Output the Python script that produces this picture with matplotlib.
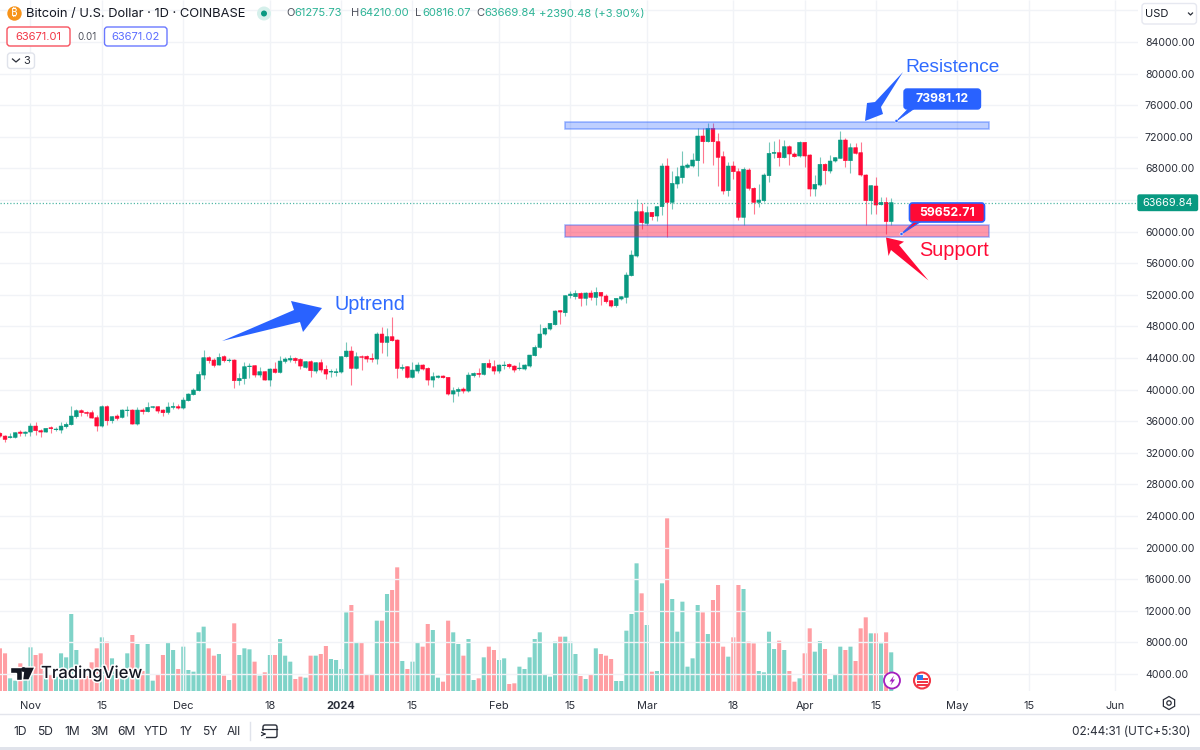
import numpy as np
import matplotlib
matplotlib.use("Agg")
import matplotlib.pyplot as plt
from matplotlib.patches import Polygon, Rectangle, FancyBboxPatch, Circle
import matplotlib.patheffects as pe

plt.rcParams['font.family'] = ['Inter', 'DejaVu Sans']

# days since 1 Nov 2023
first_day = -6
open_ = [34457,34120,33910,33950,34626,34457,34626,35385,34795,34626,35175,34921,34879,35301,35554,36567,37327,37116,37073,36440,
35385,37833,36061,36652,36483,37369,37411,35639,37411,37200,37749,37833,37411,37116,37749,37833,37664,38592,39352,39858,
41842,44036,43741,43108,44163,43657,43741,41125,41378,42897,43024,41842,42264,41209,42602,42180,43572,43741,43952,
43825,42813,43530,42348,43403,42559,42222,42138,42222,44163,44880,42686,44163,44205,43952,43868,47033,45978,46695,46273,
42686,42897,41547,42348,43108,42686,41209,41547,41716,41547,39437,39774,40070,39817,41758,42053,41927,43319,42897,42348,
43024,43192,42981,42644,42602,42981,44290,45345,47033,47666,48214,49987,49733,51886,51759,52181,51548,52223,51675,52308,
51844,51252,50620,51464,51675,54418,56907,62520,61043,62436,61971,63153,68301,63702,66023,66824,68133,68301,68977,72099,
71382,73070,71382,69483,65178,68301,67584,61803,67795,65474,63702,63913,67078,69905,69989,69356,70749,69821,69567,71298,
69694,65390,65896,68512,67668,68934,69272,71593,68976,70622,69989,67162,63913,65770,63406,63702,61275.73]
high = [34670,34200,34457,34670,34880,34710,35723,35934,35005,35175,35428,35217,35934,35934,37917,37495,37495,37284,37411,36778,
38002,38002,36652,36905,37580,37917,37580,37833,37622,38466,37917,37917,37580,38382,38424,38171,39099,39605,40196,42306,
45007,44247,43952,44669,44374,44036,43825,42053,43446,43403,43108,42813,42391,42686,43446,44247,44163,44332,44079,
43952,43657,43741,43530,43825,43108,42559,42686,44247,45978,45513,44796,44374,44332,44585,47328,47877,47750,49143,46400,
43235,42981,43530,43530,43235,42813,42180,41842,41884,41631,40280,40365,40323,42180,42264,42686,43403,43825,43741,43235,
43614,43319,43108,43446,43235,44374,45640,48256,47877,48467,50071,50071,51970,52519,52603,52350,52392,52603,53025,52392,
52097,51337,51633,51886,54924,57667,64081,63659,63238,62520,63238,68639,69272,67711,68133,70200,68639,69989,73070,73070,
73703,73787,72437,70243,68850,68977,68006,68133,68006,65685,66022,67457,71382,71509,71762,71593,70960,70116,71466,71382,
69821,67162,69398,68639,69694,69483,72733,71804,71255,71171,71297,67247,65896,66951,64419,64419,64210.00]
low = [34035,33400,33870,33910,34120,34120,34120,34246,34035,34584,34457,34795,34457,35175,35554,36356,36652,36652,36356,34795,
35301,35512,35807,36145,36398,36652,35596,35554,36905,37200,37706,37073,36652,36905,37580,37538,37580,38592,39310,39774,
41378,43319,42813,43108,43530,43488,40196,40576,40660,41420,41631,41631,41209,40492,42137,42137,43403,43530,43319,
42559,42686,41631,42138,42264,41293,41547,41716,42138,44163,40618,42559,42475,43530,43530,43235,44670,44290,46189,41420,
42475,41504,41504,42053,42475,40576,40280,41462,41420,39310,38466,39183,39521,39732,41547,41631,41842,42686,41969,42053,
42644,42770,42180,42475,42475,42813,44248,45302,46906,47539,48172,48299,49311,51548,51506,50620,50704,51337,50704,50704,
50915,50493,50493,51337,50915,54418,56739,60283,60832,61465,61380,62098,59271,62858,65474,66191,68048,68217,67035,68723,
71298,68428,65769,64757,64546,66613,61465,60832,65263,62182,63069,63786,66318,69272,68302,69272,68428,69399,69483,68133,
64546,64546,65769,66023,67373,68850,69272,68133,67457,69820,67035,60832,62182,62182,63364,59652.71,60816.07]
close = [34120,33697,34035,34540,34457,34626,35385,34795,34626,35090,35048,35005,35385,35596,36652,37327,37073,36989,36398,35385,
37833,36061,36567,36356,37411,37411,35639,37411,37200,37749,37833,37284,37073,37791,37875,37664,38677,39437,39943,41926,
44036,43657,43066,44079,43657,43741,41125,41420,42897,42981,41842,42264,41209,42602,42180,43614,43868,43952,43657,
42981,43530,42391,43403,42475,41969,42306,42264,44163,44880,42686,44163,44079,43868,43825,47033,45978,46695,46189,42686,
42813,41547,42475,43108,42602,41209,41631,41716,41504,39437,39859,40027,39817,41842,42053,41927,43319,42813,42348,43108,
43108,42897,42475,42728,43108,44374,45345,47033,47750,48383,49944,49818,51886,52097,52181,51548,52223,51675,52308,51844,
51126,50577,51548,51759,54502,57034,62520,61127,62393,61887,63153,68301,63702,66107,66951,68301,68428,69061,72099,71382,
73070,71382,69399,65136,68301,67584,61802,67879,65474,63702,63997,67162,69905,70031,69356,70749,69821,69483,71298,69567,
65390,65980,68512,67711,68934,69356,71593,68976,70622,69905,67162,63913,65812,63364,63702,61275.73,63669.84]
volume = [128,113,38,31,83,60,131,108,113,60,50,43,113,101,231,123,50,45,86,128,161,148,98,50,50,113,
168,141,60,141,31,51,108,146,123,66,133,63,58,176,193,128,106,111,46,33,203,108,128,125,88,46,56,108,108,156,
106,88,36,43,40,106,106,111,135,96,93,66,236,258,146,146,48,51,211,211,291,303,371,90,66,88,146,133,201,183,40,
28,211,176,141,106,156,33,38,101,133,123,93,98,21,23,73,66,101,156,176,48,43,148,163,163,148,111,45,36,51,128,
111,106,96,30,30,181,231,383,293,198,58,60,323,518,276,178,268,73,98,258,236,171,273,318,133,103,161,318,306,
148,143,60,56,178,126,151,123,60,28,38,113,188,118,150,126,36,48,133,123,133,90,188,221,173,173,143,176,116]

price_ticks = [84000,80000,76000,72000,68000,60000,56000,52000,48000,44000,40000,36000,32000,28000,24000,20000,16000,12000,8000,4000]
grid_prices = [88000,84000,80000,76000,72000,68000,64000,60000,56000,52000,48000,44000,40000,36000,32000,28000,24000,20000,16000,12000,8000,4000]
date_ticks = [0,14,30,47,61,75,92,106,121,138,152,166,182,196,213]
date_labels = ['Nov','15','Dec','18','2024','15','Feb','15','Mar','18','Apr','15','May','15','Jun']
last_close = 63669.84
resistance_zone = (72986, 73872)
support_zone = (59272, 60832)
zone_days = (105, 188.2)

UP, DOWN = '#089981', '#FF0A36'
BLUE = '#2962FF'
TXT = '#2A2E39'
GRID = '#F1F3F7'

fig = plt.figure(figsize=(12, 7.5), dpi=100, facecolor='white')
W, H = 1200, 750
rect = [0, (H-691)/H, 1138/W, 691/H]

axv = fig.add_axes(rect, facecolor='white')
axv.set_xlim(-30.5/5.093, (1138-30.5)/5.093)
axv.set_ylim(0, 691*3)
axv.axis('off')
ax = fig.add_axes(rect, facecolor='none', sharex=axv)
k = 80000/632
ax.set_ylim(84000-649*k, 84000+42*k)

days = np.arange(first_day, first_day+len(close))
o, h, l, c = map(np.array, (open_, high, low, close))
is_up = c >= o
colors = np.where(is_up, UP, DOWN)

ax.hlines(grid_prices, -10, 230, color=GRID, lw=1, zorder=0)
ax.vlines(date_ticks, 84000-649*k, 84000+42*k, color=GRID, lw=1, zorder=0)

vol_colors = np.where(is_up, '#7FD3C8', '#FF9EA3')
axv.bar(days, volume, width=0.8, color=vol_colors, linewidth=0, zorder=2, snap=False)

ax.vlines(days, l, h, colors=colors, lw=0.8, alpha=0.55, zorder=3)
ax.bar(days, np.abs(c-o), bottom=np.minimum(o,c), width=0.74, color=colors, edgecolor=colors, linewidth=0.4, zorder=4, snap=False)

ax.axhline(last_close, color=UP, lw=0.9, ls=(0,(1,1.6)), alpha=0.7, zorder=5)

for zone, face, fa in ((resistance_zone, BLUE, 0.3), (support_zone, '#FF0A36', 0.42)):
    ax.add_patch(Rectangle((zone_days[0], zone[0]), zone_days[1]-zone_days[0], zone[1]-zone[0],
                           facecolor=matplotlib.colors.to_rgba(face, fa),
                           edgecolor=matplotlib.colors.to_rgba(BLUE, 0.45), lw=1.1, zorder=6))

for s in ax.spines.values():
    s.set_visible(False)
ax.yaxis.tick_right()
ax.set_yticks(price_ticks)
ax.set_yticklabels([f'{p:.2f}' for p in price_ticks], fontsize=7.6, color=TXT)
ax.tick_params(axis='y', length=0, pad=5)
ax.set_xticks(date_ticks)
ax.set_xticklabels(date_labels, fontsize=7.9, color=TXT)
ax.tick_params(axis='x', length=0, pad=7)
for lb, t in zip(ax.get_xticklabels(), date_labels):
    if t == '2024':
        lb.set_fontweight('bold')
ax.set_xlim(-30.5/5.093, (1138-30.5)/5.093)

ui = fig.add_axes([0,0,1,1], facecolor='none')
ui.set_xlim(0, W); ui.set_ylim(H, 0); ui.axis('off')

def T(x, y, s, size=8.3, color=TXT, ha='left', va='center', zorder=12, **kw):
    return ui.text(x, y, s, fontsize=size, color=color, ha=ha, va=va, zorder=zorder, **kw)

def box(x0, y0, x1, y1, fc, ec, lw=1, r=3, z=8):
    p = FancyBboxPatch((x0, y0), x1-x0, y1-y0, boxstyle=f'round,pad=0,rounding_size={r}',
                       fc=fc, ec=ec, lw=lw, zorder=z)
    ui.add_patch(p)
    return p

# header
ui.add_patch(Circle((14.5, 13.5), 7.2, fc='#F7931A', ec='none'))
T(14.5, 13.5, '₿', size=8, color='white', ha='center',
  family=['Noto Sans', 'Roboto', 'Open Sans', 'Lato', 'Inter', 'Liberation Sans', 'DejaVu Sans'], fontweight='bold')
T(26, 13.5, 'Bitcoin / U.S. Dollar · 1D · COINBASE', size=9.3, color='#131722')
ui.add_patch(Circle((264, 13.5), 7, fc='#D5F0EB', ec='none'))
ui.add_patch(Circle((264, 13.5), 3, fc=UP, ec='none'))
HGREEN = '#2BB395'
for x, dx, lab, val in ((286,8.7,'O','61275.73'),(350.5,8.7,'H','64210.00'),(415,7,'L','60816.07'),(476,8.5,'C','63669.84')):
    T(x, 13.5, lab, size=8.0, color='#50535E')
    T(x+dx, 13.5, val, size=8.0, color=HGREEN)
T(539, 13.5, '+2390.48 (+3.90%)', size=8.0, color=HGREEN)

box(7, 27, 70, 46, 'white', '#F7525F')
T(38.5, 36.5, '63671.01', size=8.0, color='#F23645', ha='center')
T(87, 37, '0.01', size=7.0, color='#50535E', ha='center')
box(104.5, 27, 167, 46, 'white', '#6A78FF')
T(136, 36.5, '63671.02', size=8.0, color='#5B6CFF', ha='center')
box(7.5, 53, 34.5, 68.5, 'white', '#E0E3EB')
ui.plot([12.5,16,19.5],[59,62,59], color=TXT, lw=0.9, zorder=12)
T(27, 61, '3', size=8, color=TXT, ha='center')

# USD selector
box(1142, 3.5, 1196.5, 24, 'white', '#E6E8F0')
T(1145, 14, 'USD', size=8.0, color='#131722')
ui.plot([1188.5,1190.5,1192.5],[13,15,13], color=TXT, lw=0.9, zorder=12)

# current price tag
box(1138, 195, 1197.5, 210.5, UP, UP, r=1.5)
T(1168, 203, '63669.84', size=7.8, color='white', ha='center')

# annotations
T(334, 305, 'Uptrend', size=14.3, color='#2F6BFF', family=['Liberation Sans'])
T(905, 67, 'Resistence', size=13.8, color='#2F6BFF', family=['Liberation Sans'])
T(919.5, 251, 'Support', size=14.3, color='#FF0A36', family=['Liberation Sans'])

ui.add_patch(Polygon([(222,341),(294,310),(291,301),(322,308),(303,332),(300,322)], fc=BLUE, ec='none', zorder=7))
ui.add_patch(Polygon([(903,72),(875,102),(867,103),(865,121),(883,114),(881,107)], fc=BLUE, ec='none', zorder=7))
ui.add_patch(Polygon([(886,237.5),(904,241.7),(899,245),(928.5,280.5),(891,250),(888.5,256)], fc='#FF0A36', ec='none', zorder=7))

# callouts
ui.add_patch(Polygon([(896.5,121),(911,106),(918,106)], fc=BLUE, ec=BLUE, lw=0.5, zorder=8))
box(904, 89, 980.5, 109, BLUE, BLUE, r=3)
T(942, 99.5, '73981.12', size=8.8, color='white', ha='center', fontweight='bold')
ui.add_patch(Circle((896.5,121), 1.6, fc=BLUE, ec='white', lw=0.4, zorder=9))

ui.add_patch(Polygon([(901.5,234),(916,220),(923,220)], fc='#FF0A36', ec=BLUE, lw=0.8, zorder=8))
box(909.5, 203, 984.5, 222, '#FF0A36', BLUE, lw=1.2, r=3)
T(947, 212.5, '59652.71', size=8.8, color='white', ha='center', fontweight='bold')
ui.add_patch(Circle((901.5,234), 1.6, fc=BLUE, ec='white', lw=0.4, zorder=9))

# TradingView logo
halo = [pe.withStroke(linewidth=2.2, foreground='white')]
for pts in ([(10,667),(22,667),(22,680),(16,680),(16,672.5),(10,672.5)],
            [(24,667),(35,667),(29,680),(22.5,680)]):
    ui.add_patch(Polygon(pts, fc='#131722', ec='white', lw=1, zorder=9))
ui.add_patch(Circle((23.5,669.5), 2.4, fc='#131722', ec='none', zorder=9))
T(41, 673.5, 'TradingView', size=12.0, color='#131722', fontweight='medium', path_effects=halo)

# event icons
ui.add_patch(Circle((892,680.5), 8, fc='white', ec='#A31FBF', lw=1.3, zorder=9))
ui.add_patch(Polygon([(894,675.5),(889.5,681.5),(892,681.5),(890.5,685.5),(895,679.5),(892.5,679.5)], fc='#A31FBF', ec='none', zorder=10))
ui.add_patch(Circle((922,680.5), 8, fc='white', ec='#F23645', lw=1.5, zorder=9))
for yy in (679, 682, 685):
    ui.add_patch(Rectangle((916.5,yy-0.7), 11, 1.4, fc='#F23645', ec='none', zorder=10))
ui.add_patch(Rectangle((916.5,675), 6, 5, fc='#2B7BF0', ec='none', zorder=11))

# gear
ang = np.deg2rad(np.arange(30, 390, 60))
ui.add_patch(Polygon(np.c_[1169+6.5*np.cos(ang), 703+6.5*np.sin(ang)], fc='white', ec=TXT, lw=0.9))
ui.add_patch(Circle((1169,703), 2.2, fc='white', ec=TXT, lw=0.9))

# bottom bar
ui.plot([0,1200],[714,714], color='#E3E5EC', lw=1)
ui.add_patch(Rectangle((0,747), 1200, 3, fc='#E0E3EB', ec='none'))
for x, s in ((20,'1D'),(45,'5D'),(72,'1M'),(99,'3M'),(126,'6M'),(156,'YTD'),(186,'1Y'),(210,'5Y'),(234,'All')):
    T(x, 732, s, size=8.7, color=TXT, ha='center')
ui.plot([249.5,249.5],[722,740], color='#E0E3EB', lw=1)
ui.add_patch(FancyBboxPatch((263,725), 14, 12.5, boxstyle='round,pad=0,rounding_size=2', fc='none', ec=TXT, lw=1))
ui.plot([262,277],[729,729], color=TXT, lw=0.9)
ui.add_patch(Rectangle((260,730.5), 6, 7.5, fc='white', ec='none', zorder=3))
ui.annotate('', xy=(269,734), xytext=(261,734), arrowprops=dict(arrowstyle='->', lw=0.9, color=TXT, mutation_scale=6), zorder=4)
T(1191, 732, '02:44:31 (UTC+5:30)', size=8.5, color=TXT, ha='right')

fig.savefig('out.png', dpi=100)
